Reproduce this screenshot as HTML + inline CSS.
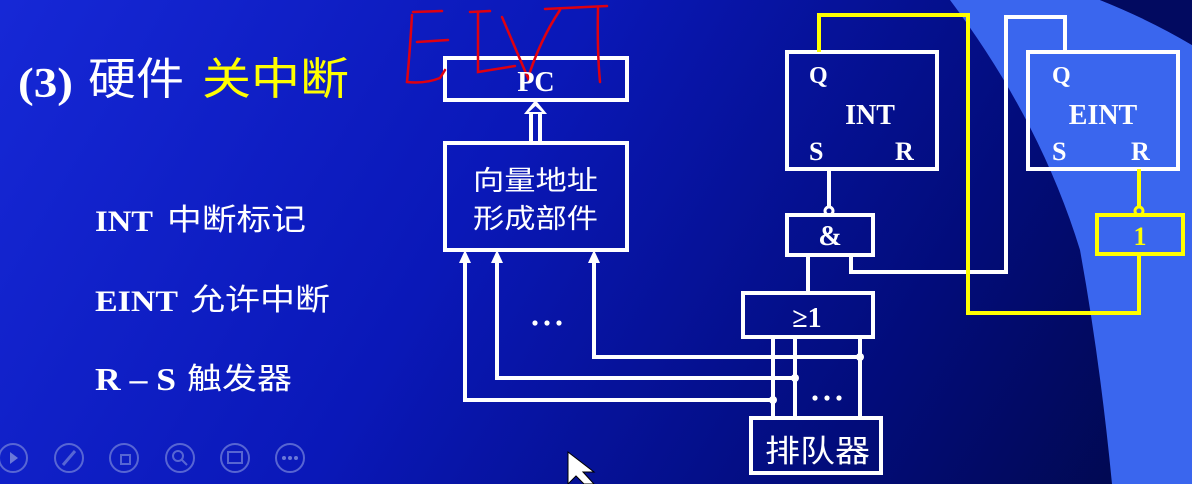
<!DOCTYPE html>
<html><head><meta charset="utf-8"><style>
html,body{margin:0;padding:0;width:1192px;height:484px;overflow:hidden;}
body{background:linear-gradient(120deg,#1628d6 0%,#0a18b8 40%,#020c7a 75%,#010848 100%);}
svg{position:absolute;left:0;top:0;}
.w{fill:#fff;font-family:"Liberation Serif","Noto Serif CJK SC",serif;font-weight:bold;}
.c{fill:#fff;font-family:"Liberation Sans","Noto Sans CJK SC",sans-serif;}
</style></head><body>
<svg width="1192" height="484" viewBox="0 0 1192 484">
<path d="M950,0 Q1040,120 1080,250 Q1100,360 1112,484 L1192,484 L1192,45 Q1150,20 1100,0 Z" fill="#3a66ee"/>
<path d="M1100,0 Q1150,20 1192,45 L1192,0 Z" fill="#020a60"/>
<g fill="none" stroke="#fff" stroke-width="4">
<rect x="445" y="58" width="182" height="42"/>
<rect x="445" y="143" width="182" height="107"/>
<line x1="531" y1="112" x2="531" y2="143"/><line x1="540" y1="112" x2="540" y2="143"/>
<rect x="787" y="52" width="150" height="117"/>
<rect x="1028" y="52" width="150" height="117"/>
<rect x="787" y="215" width="86" height="40"/>
<rect x="743" y="293" width="130" height="44"/>
<rect x="751" y="418" width="130" height="55"/>
<line x1="829" y1="169" x2="829" y2="208"/>
<polyline points="851,255 851,272 1006,272 1006,17 1065,17 1065,52"/>
<line x1="808" y1="255" x2="808" y2="293"/>
<line x1="773" y1="337" x2="773" y2="418"/><line x1="795" y1="337" x2="795" y2="418"/><line x1="860" y1="337" x2="860" y2="418"/>
<polyline points="594,258 594,357 860,357"/>
<polyline points="497,258 497,378 795,378"/>
<polyline points="465,258 465,400 773,400"/>
</g>
<circle cx="829" cy="211" r="4" fill="none" stroke="#fff" stroke-width="3"/>
<g fill="#fff"><circle cx="860" cy="357" r="4"/><circle cx="795" cy="378" r="4"/><circle cx="773" cy="400" r="4"/>
<polygon points="465,250 459,263 471,263"/><polygon points="497,250 491,263 503,263"/><polygon points="594,250 588,263 600,263"/>
<polygon points="535.5,100 524,114 547,114"/></g>
<polygon points="535.5,106 529,112 542,112" fill="#0c1cc0"/>
<g fill="none" stroke="#ffff00" stroke-width="4">
<polyline points="819,52 819,15 968,15 968,313 1139,313 1139,254"/>
<rect x="1097" y="215" width="86" height="39"/>
<line x1="1139" y1="169" x2="1139" y2="208"/>
</g>
<circle cx="1139" cy="211" r="4" fill="none" stroke="#ffff00" stroke-width="3"/>
<g fill="none" stroke="#e00010" stroke-width="2.5" stroke-linecap="round">
<path d="M413,12 L442,11"/><path d="M412,15 Q410,50 407,82 Q425,84 440,78 L445,70"/><path d="M417,42 L448,40"/>
<path d="M470,12 L490,11"/><path d="M478,12 L478,72 L515,66"/>
<path d="M502,17 L528,78 Q540,40 560,10"/>
<path d="M545,9 L607,6"/><path d="M598,8 Q597,50 600,82"/>
</g>
<text x="18" y="97" class="w" font-size="42" textLength="55" lengthAdjust="spacingAndGlyphs">(3)</text>
<text x="88" y="94" class="c" font-size="44" textLength="96" lengthAdjust="spacingAndGlyphs">硬件</text>
<text x="202" y="94" class="c" font-size="44" style="fill:#ffff00" textLength="147" lengthAdjust="spacingAndGlyphs">关中断</text>
<text x="95" y="231" class="w" font-size="30" textLength="58" lengthAdjust="spacingAndGlyphs">INT</text><text x="167" y="230" class="c" font-size="30" textLength="139" lengthAdjust="spacingAndGlyphs">中断标记</text>
<text x="95" y="311" class="w" font-size="30" textLength="83" lengthAdjust="spacingAndGlyphs">EINT</text><text x="190" y="310" class="c" font-size="30" textLength="140" lengthAdjust="spacingAndGlyphs">允许中断</text>
<text x="95" y="390" class="w" font-size="32" textLength="81" lengthAdjust="spacingAndGlyphs">R – S</text><text x="187" y="389" class="c" font-size="30" textLength="105" lengthAdjust="spacingAndGlyphs">触发器</text>
<text x="536" y="91" class="w" font-size="28" text-anchor="middle">PC</text>
<text x="473" y="190" class="c" font-size="27" textLength="125" lengthAdjust="spacingAndGlyphs">向量地址</text>
<text x="473" y="228" class="c" font-size="27" textLength="125" lengthAdjust="spacingAndGlyphs">形成部件</text>
<text x="809" y="83" class="w" font-size="24">Q</text>
<text x="870" y="124" class="w" font-size="28" text-anchor="middle">INT</text>
<text x="809" y="160" class="w" font-size="26">S</text><text x="895" y="160" class="w" font-size="26">R</text>
<text x="1052" y="83" class="w" font-size="24">Q</text>
<text x="1103" y="124" class="w" font-size="28" text-anchor="middle">EINT</text>
<text x="1052" y="160" class="w" font-size="26">S</text><text x="1131" y="160" class="w" font-size="26">R</text>
<text x="830" y="245" class="w" font-size="28" text-anchor="middle">&amp;</text>
<text x="1140" y="245" class="w" font-size="26" text-anchor="middle" style="fill:#ffff00">1</text>
<text x="807" y="327" class="w" font-size="28" text-anchor="middle">≥1</text>
<text x="765" y="462" class="c" font-size="31" textLength="105" lengthAdjust="spacingAndGlyphs">排队器</text>
<g fill="#fff"><circle cx="535" cy="323" r="2.6"/><circle cx="547" cy="323" r="2.6"/><circle cx="559" cy="323" r="2.6"/>
<circle cx="815" cy="398" r="2.6"/><circle cx="827" cy="398" r="2.6"/><circle cx="839" cy="398" r="2.6"/></g>
<path d="M568,452 L568,484 L576,476 L584,484 L594,484 L583,472 L594,472 Z" fill="#fff" stroke="#000" stroke-width="1"/>
<g fill="none" stroke="#6a78d8" stroke-width="2" opacity="0.8">
<circle cx="13" cy="458" r="14"/><circle cx="69" cy="458" r="14"/><circle cx="124" cy="458" r="14"/>
<circle cx="180" cy="458" r="14"/><circle cx="235" cy="458" r="14"/><circle cx="290" cy="458" r="14"/>
<line x1="63" y1="465" x2="75" y2="451" stroke-width="3"/>
<rect x="121" y="455" width="9" height="9"/><circle cx="178" cy="456" r="5"/><line x1="182" y1="460" x2="187" y2="465"/>
<rect x="228" y="452" width="14" height="11"/>
</g>
<polygon points="10,452 10,464 18,458" fill="#6a78d8"/>
<g fill="#6a78d8"><circle cx="284" cy="458" r="2"/><circle cx="290" cy="458" r="2"/><circle cx="296" cy="458" r="2"/></g>
</svg>
</body></html>
